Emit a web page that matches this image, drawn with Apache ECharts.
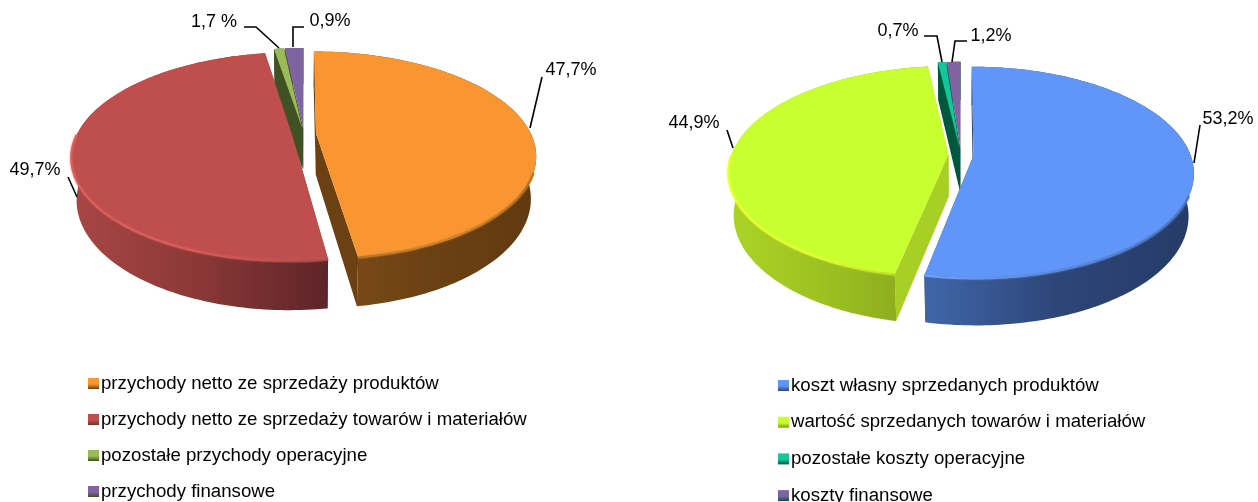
<!DOCTYPE html>
<html><head><meta charset="utf-8">
<style>html,body{margin:0;padding:0;background:#fff}#c{width:1258px;height:502px}</style>
<script src="https://cdn.jsdelivr.net/npm/echarts@6/dist/echarts.min.js"></script>
</head><body><div id="c"></div>
<script>
// ---- data (slice sizes as drawn in the picture; printed labels are kept separately)
const revenueNames = ['przychody netto ze sprzedaży produktów','przychody netto ze sprzedaży towarów i materiałów','pozostałe przychody operacyjne','przychody finansowe'];
const revenueShares = [47.7, 49.7, 0.9, 1.7];
const revenueLabels = ['47,7%','49,7%','1,7 %','0,9%'];
const costNames = ['koszt własny sprzedanych produktów','wartość sprzedanych towarów i materiałów','pozostałe koszty operacyjne','koszty finansowe'];
const costShares = [53.2, 44.9, 0.7, 1.2];
const costLabels = ['53,2%','44,9%','0,7%','1,2%'];

// ---- styling / layout
const FONT = '"Liberation Sans", Arial, sans-serif';
const revenueStyle = [
  {top:'#F99631', face:'#6B4012', wall:['#7E4E18','#6C4113','#623A10'], rim:['#B8752A','#D0822E','#B07028'], rimFrom:0.62},
  {top:'#BE4F4C', face:'#7A2F2E', wall:['#A84745','#8A3837','#5E2429'], rim:['#DC605D','#D85C59','#A84A48'], rimFrom:0},
  {top:'#9BBB59', face:'#3F5223', wall:['#3F5223','#3F5223','#3F5223'], rim:null},
  {top:'#8064A2', face:'#3F5223', wall:['#3F5223','#3F5223','#3F5223'], rim:null}
];
const costStyle = [
  {top:'#6096F8', face:'#2B4272', wall:['#4066A8','#2D4578','#263B67'], rim:['#70A2FC','#5A88D8','#4A72BC'], rimFrom:0.62},
  {top:'#C8FF2E', face:'#A8D024', wall:['#ACD426','#9CC021','#88A51E'], rim:['#E6FF36','#E8FF38','#B8E028'], rimFrom:0},
  {top:'#12C89B', face:'#00583F', wall:['#00583F','#00583F','#00583F'], rim:null},
  {top:'#8064A2', face:'#00583F', wall:['#00583F','#00583F','#00583F'], rim:null}
];
const leftPie = {cx:304, cy:134, R:215, Q:99.4, k:0.209, e:0.056, s:0.977, sy:1.064, H:41,
  shares:revenueShares, names:revenueNames, style:revenueStyle, order:[3,2,1,0]};
const rightPie = {cx:961, cy:155, R:217, Q:103, k:0.16, e:0.058, s:0.977, sy:1.04, H:42,
  shares:costShares, names:costNames, style:costStyle, order:[3,2,1,0]};

const annotations = [
  {t:revenueLabels[0], x:571, y:70, line:[[542,77],[530,128]]},
  {t:revenueLabels[1], x:35,  y:170, line:[[68,177],[77,197]]},
  {t:revenueLabels[2], x:214, y:22, line:[[244,27],[256,27],[279,48]]},
  {t:revenueLabels[3], x:330, y:21, line:[[304,27],[293,27],[293,47]]},
  {t:costLabels[0], x:1228, y:119, line:[[1200,125],[1194,163]]},
  {t:costLabels[1], x:694,  y:123, line:[[727,130],[733,148]]},
  {t:costLabels[2], x:898,  y:31, line:[[924,36],[937,36],[942,62]]},
  {t:costLabels[3], x:991,  y:36, line:[[967,41],[955,41],[952,62]]}
];

// ---- projection of the tilted disc
function sliceAngles(shares){
  const total = shares.reduce((a,b)=>a+b,0); let c = 0;
  return shares.map(v=>{const a0=c/total*Math.PI*2; c+=v; return [a0,c/total*Math.PI*2];});
}
function proj(p,u,v,lower){
  const w = 1-p.k*v, X=p.R*u/w, Y=p.Q*v/w;
  return lower ? [p.cx+X*p.s, p.cy+Y*p.sy+p.H] : [p.cx+X, p.cy+Y];
}
function sliceGeom(p,a0,a1){
  const m=(a0+a1)/2, du=Math.sin(m)*p.e, dv=-Math.cos(m)*p.e;
  const at=(a,lower)=>proj(p,Math.sin(a)+du,-Math.cos(a)+dv,lower);
  const arc=(lower,from,to)=>{
    const n=Math.max(2,Math.ceil(Math.abs(to-from)/0.02)), out=[];
    for(let i=0;i<=n;i++) out.push(at(from+(to-from)*i/n,lower));
    return out;
  };
  return {apexT:proj(p,du,dv,false), apexB:proj(p,du,dv,true), at, arc};
}
function lg(cols){
  return new echarts.graphic.LinearGradient(0,0,1,0,cols.map((c,i)=>({offset:i/(cols.length-1),color:c})));
}
function renderSlice(p,idx){
  const [a0,a1]=sliceAngles(p.shares)[idx], st=p.style[idx], g=sliceGeom(p,a0,a1), kids=[];
  const poly=(pts,fill)=>({type:'polygon',shape:{points:pts},style:{fill,stroke:null},silent:true});
  kids.push(poly([g.apexT,g.at(a0,false),g.at(a0,true),g.apexB],st.face));
  kids.push(poly([g.apexT,g.at(a1,false),g.at(a1,true),g.apexB],st.face));
  kids.push(poly(g.arc(false,a0,a1).concat(g.arc(true,a1,a0)),lg(st.wall)));
  kids.push(poly([g.apexT].concat(g.arc(false,a0,a1)),st.top));
  if(st.rim){
    const from=Math.max(a0,Math.PI*st.rimFrom), to=Math.min(a1,Math.PI*1.5);
    kids.push({type:'polyline',shape:{points:g.arc(false,from,to)},silent:true,
      style:{fill:null,stroke:lg(st.rim),lineWidth:2,shadowBlur:2,shadowColor:st.rim[1]}});
  }
  return {type:'group',children:kids};
}
function pieSeries(p){
  return p.order.map((idx,rank)=>({
    type:'custom', name:p.names[idx], coordinateSystem:'none', silent:true, animation:false,
    z:2+rank, itemStyle:{color:p.style[idx].top},
    data:[{name:p.names[idx],value:p.shares[idx]}],
    renderItem:()=>renderSlice(p,idx)
  }));
}
function legendFor(p,left,top,itemGap){
  return {orient:'vertical',left,top,padding:0,height:200,itemWidth:11,itemHeight:11,itemGap,selectedMode:false,
    data:p.names.map((n,i)=>({name:n,icon:'rect',itemStyle:{color:new echarts.graphic.LinearGradient(0,0,0,1,[
      {offset:0,color:p.style[i].top},{offset:0.55,color:p.style[i].top},{offset:1,color:p.style[i].face==='#A8D024'?'#7D9A1B':p.style[i].face}])}})),
    textStyle:{fontFamily:FONT,fontSize:18.65,color:'#000',lineHeight:18,padding:[0,0,0,-3]}};
}
const annotationGraphics = annotations.flatMap(a=>[
  {type:'text',x:a.x,y:a.y,z:20,silent:true,style:{text:a.t,fontFamily:FONT,fontSize:18,fill:'#000',textAlign:'center',textVerticalAlign:'middle'}},
  {type:'polyline',z:20,silent:true,shape:{points:a.line},style:{stroke:'#000',lineWidth:1.6,fill:null}}
]);

const chart = echarts.init(document.getElementById('c'),null,{renderer:'canvas'});
chart.setOption({
  animation:false, backgroundColor:'#fff',
  legend:[legendFor(leftPie,88,374,17.0),legendFor(rightPie,778,376,17.7)],
  graphic:annotationGraphics,
  series:[...pieSeries(leftPie),...pieSeries(rightPie)]
});
</script></body></html>
